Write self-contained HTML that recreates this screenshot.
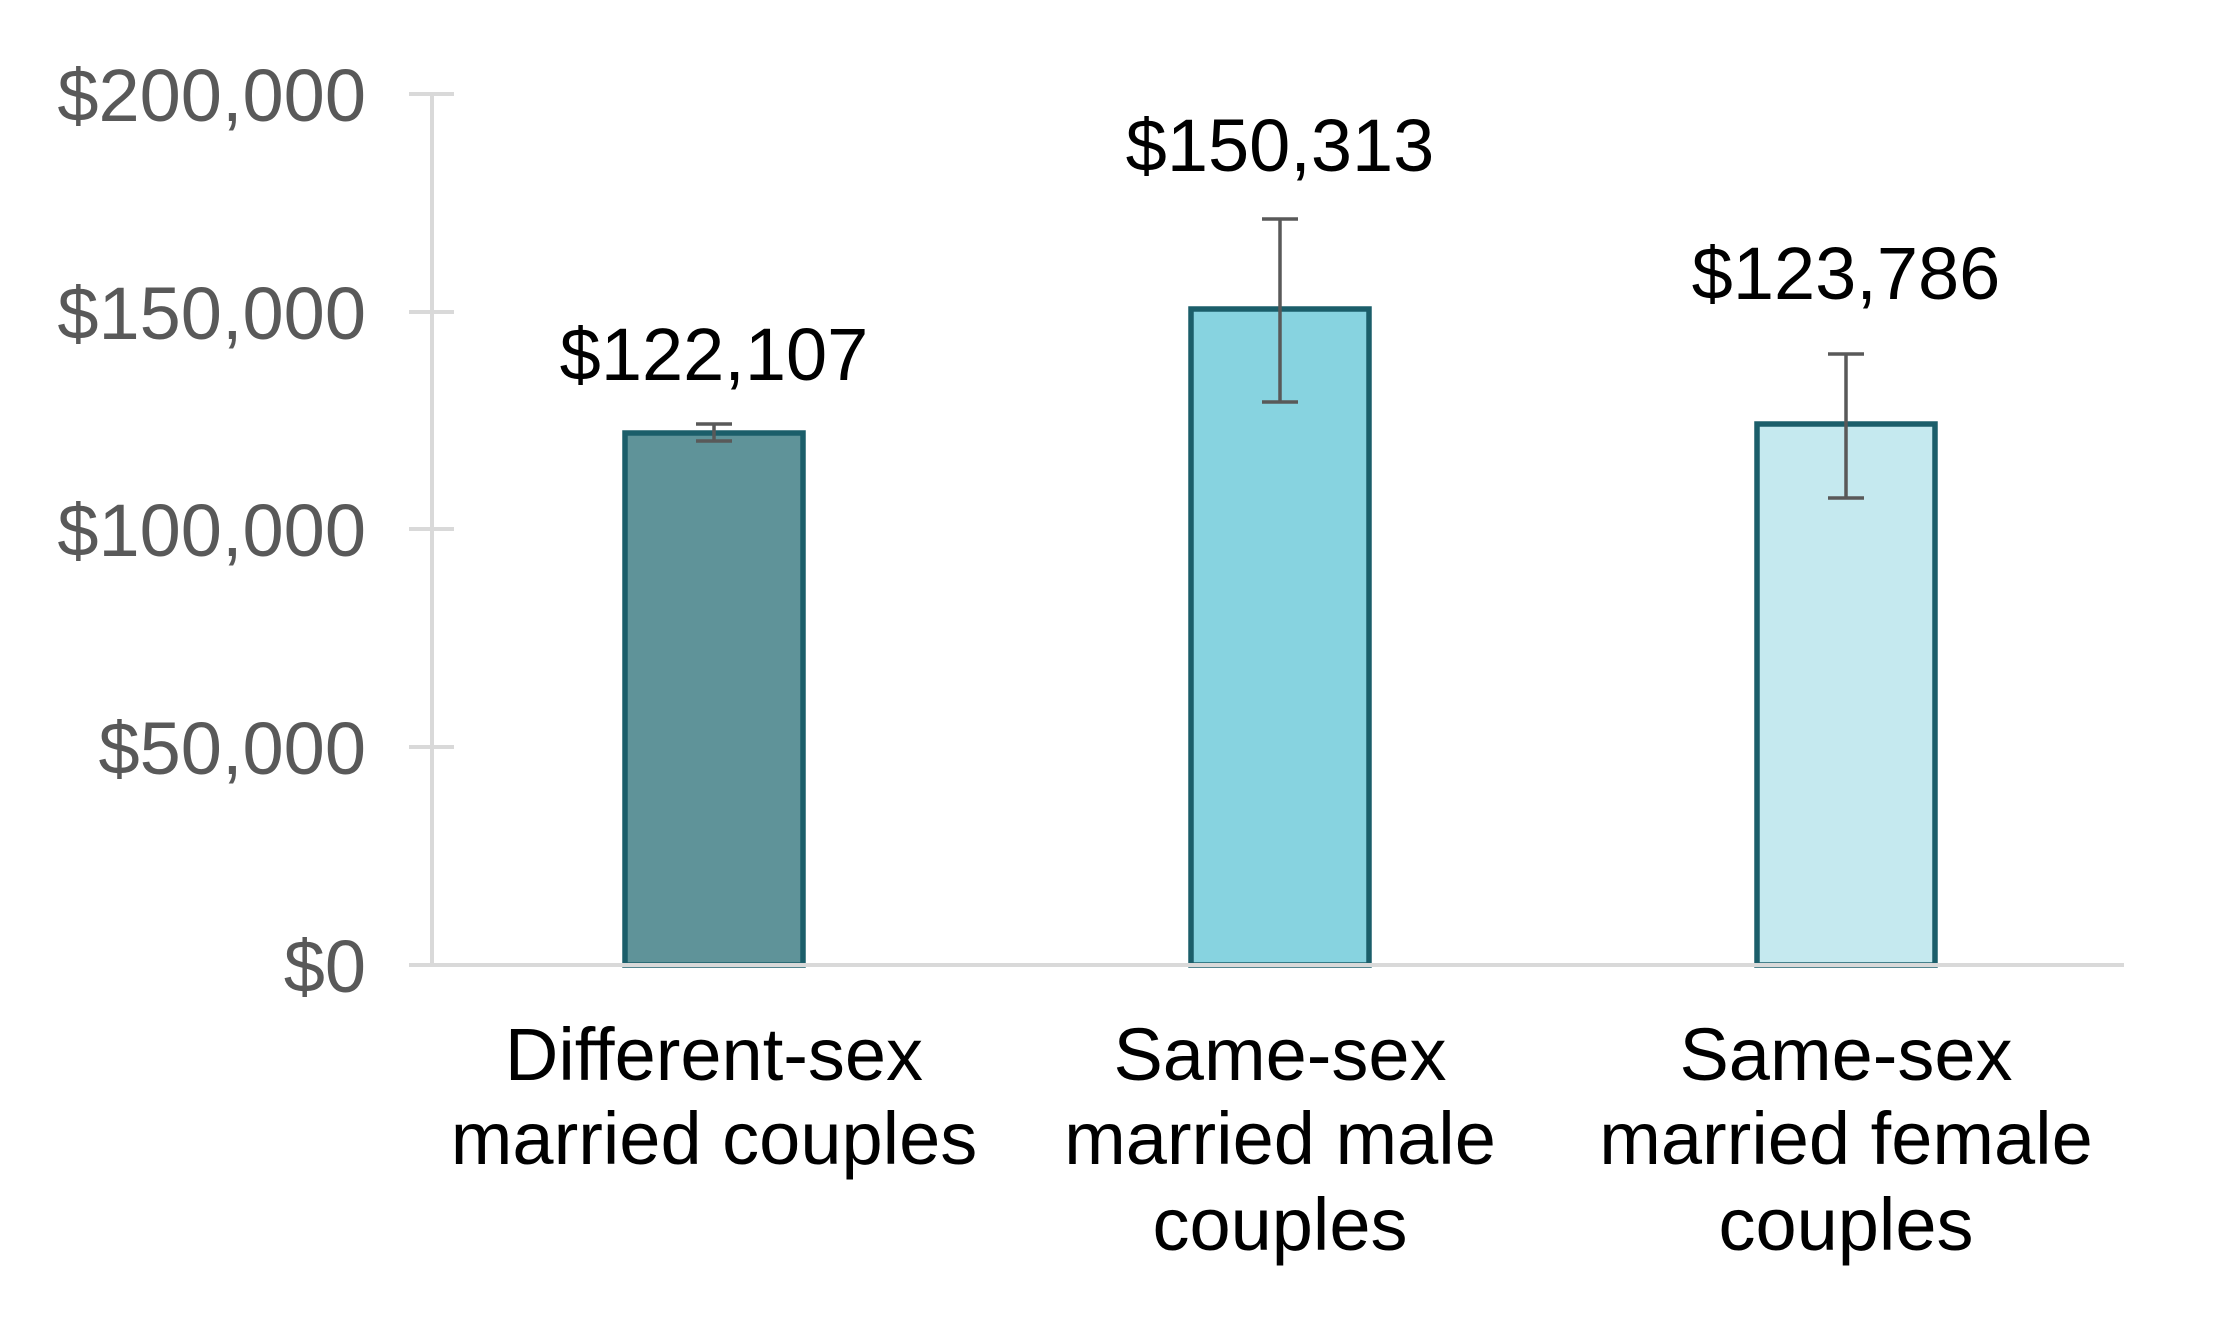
<!DOCTYPE html>
<html><head><style>
html,body{margin:0;padding:0;background:#fff;}
svg{display:block;}
text{font-family:"Liberation Sans",Arial,sans-serif;}
</style></head><body>
<svg width="2220" height="1320" viewBox="0 0 2220 1320" xmlns="http://www.w3.org/2000/svg">
<rect width="2220" height="1320" fill="#fff"/>
<g stroke="#d9d9d9" stroke-width="4">
<line x1="432" y1="94" x2="432" y2="965"/>
<line x1="409" y1="94" x2="454" y2="94"/>
<line x1="409" y1="312" x2="454" y2="312"/>
<line x1="409" y1="529" x2="454" y2="529"/>
<line x1="409" y1="747" x2="454" y2="747"/>
</g>
<g font-size="74" fill="#595959" text-anchor="end">
<text x="366" y="121">$200,000</text>
<text x="366" y="339">$150,000</text>
<text x="366" y="556">$100,000</text>
<text x="366" y="774">$50,000</text>
<text x="366" y="992">$0</text>
</g>
<g stroke="#1b5e6a" stroke-width="5.5">
<rect x="625" y="433" width="178" height="532" fill="#5f9399"/>
<rect x="1191" y="309" width="178" height="656" fill="#87d3e0"/>
<rect x="1757" y="424" width="178" height="541" fill="#c5e9ef"/>
</g>
<line x1="409" y1="965" x2="2124" y2="965" stroke="#d9d9d9" stroke-width="4"/>
<g stroke="#595959" stroke-width="3.5">
<line x1="714" y1="424" x2="714" y2="441"/><line x1="696" y1="424" x2="732" y2="424"/><line x1="696" y1="441" x2="732" y2="441"/>
<line x1="1280" y1="219" x2="1280" y2="402"/><line x1="1262" y1="219" x2="1298" y2="219"/><line x1="1262" y1="402" x2="1298" y2="402"/>
<line x1="1846" y1="354" x2="1846" y2="498"/><line x1="1828" y1="354" x2="1864" y2="354"/><line x1="1828" y1="498" x2="1864" y2="498"/>
</g>
<g font-size="74" fill="#000" text-anchor="middle">
<text x="714" y="380">$122,107</text>
<text x="1280" y="171">$150,313</text>
<text x="1846" y="299">$123,786</text>
<text x="714" y="1080">Different-sex</text>
<text x="714" y="1164">married couples</text>
<text x="1280" y="1080">Same-sex</text>
<text x="1280" y="1164">married male</text>
<text x="1280" y="1250">couples</text>
<text x="1846" y="1080">Same-sex</text>
<text x="1846" y="1164">married female</text>
<text x="1846" y="1250">couples</text>
</g>
</svg>
</body></html>
